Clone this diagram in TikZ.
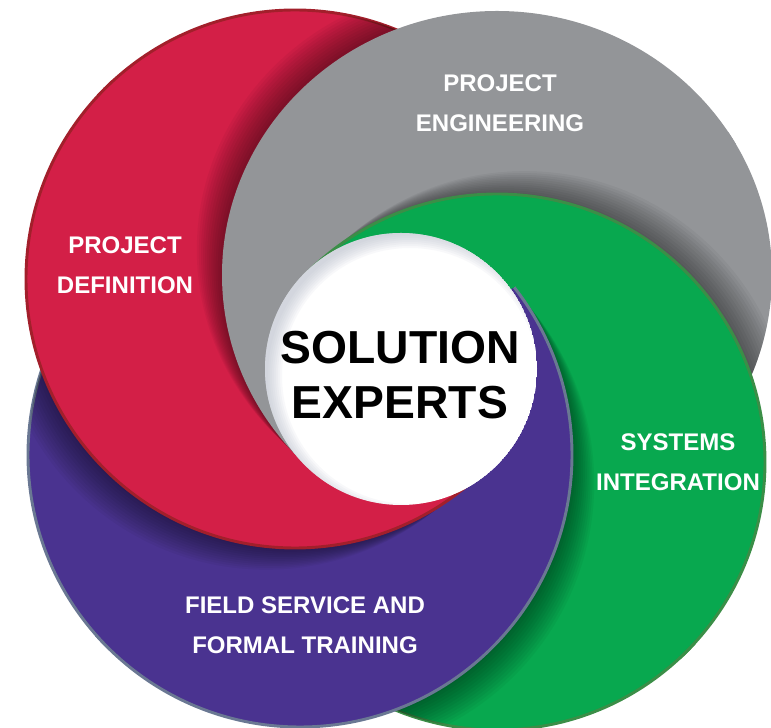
\documentclass[tikz,border=0pt]{standalone}
\usepackage{fontspec}
\setmainfont{Liberation Sans}
\usepackage{tikz}

\definecolor{defred}{HTML}{D31F47}
\definecolor{defredline}{HTML}{A21F2B}
\definecolor{enggray}{HTML}{939598}
\definecolor{intgreen}{HTML}{08A84F}
\definecolor{intgreenline}{HTML}{3B8E47}
\definecolor{fldpurple}{HTML}{4A3390}
\definecolor{fldpurpleline}{HTML}{6A7893}
\definecolor{centershade}{HTML}{A9B0C0}

\newcommand{\defshape}{(295,449) circle [radius=269]}
\newcommand{\engshape}{(497,453) ellipse [x radius=275, y radius=264]}
\newcommand{\intshape}{(497,266) circle [radius=268]}
\newcommand{\fldshape}{(300,273) circle [radius=272]}

\newcommand{\defring}{\filldraw[fill=defred, draw=defredline, line width=2.5pt] \defshape;}
\newcommand{\engring}{\fill[enggray] \engshape;}
\newcommand{\intring}{\filldraw[fill=intgreen, draw=intgreenline, line width=2.5pt] \intshape;}
\newcommand{\fldring}{\filldraw[fill=fldpurple, draw=fldpurpleline, line width=2.5pt] \fldshape;}
\newcommand{\castshadow}[4]{\begin{scope}\clip #2; \foreach \k in {1,...,12} \fill[black, opacity=0.04, shift={(\k*#3,\k*#4)}] #1; \end{scope}}
\newcommand{\defshadow}{\castshadow{\defshape}{\fldshape}{-2.4}{-1.8}}
\newcommand{\engshadow}{\castshadow{\engshape}{\defshape}{-2.1}{2.1}}
\newcommand{\intshadow}{\castshadow{\intshape}{\engshape}{2.3}{1.9}}
\newcommand{\fldshadow}{\castshadow{\fldshape}{\intshape}{1.85}{-2.35}}

\tikzset{
  ringlabel/.style={text=white, font=\bfseries\fontsize{20.5}{34.5}\selectfont, align=center},
  centerlabel/.style={text=black, font=\bfseries\fontsize{39.5}{47}\selectfont, align=center}
}

\begin{document}
\begin{tikzpicture}[x=0.03cm, y=0.03cm]
\useasboundingbox (0,0) rectangle (771,728);
\coordinate (w) at (401,359);

\begin{scope}
  \clip (w) -- +(34:1200) -- +(138:1200) -- cycle;
  \begin{scope}[transparency group]
    \fldring \defshadow \defring \engshadow \engring \intshadow \intring
  \end{scope}
\end{scope}
\begin{scope}
  \clip (w) -- +(135:1200) -- +(224:1200) -- cycle;
  \begin{scope}[transparency group]
    \intring \fldshadow \fldring \defshadow \defring \engshadow \engring
  \end{scope}
\end{scope}
\begin{scope}
  \clip (w) -- +(221:1200) -- +(317:1200) -- cycle;
  \begin{scope}[transparency group]
    \engring \intshadow \intring \fldshadow \fldring \defshadow \defring
  \end{scope}
\end{scope}
\begin{scope}
  \clip (w) -- +(314:1200) -- +(396:1200) -- cycle;
  \begin{scope}[transparency group]
    \defring \engshadow \engring \intshadow \intring \fldshadow \fldring
  \end{scope}
\end{scope}

\begin{scope}
  \clip (w) circle [radius=136];
  \fill[white] (w) circle [radius=136];
  \foreach \k in {1,...,8}
    \fill[centershade, opacity=0.08, even odd rule] (w) circle [radius=140] ([shift={(9,-7)}]w) circle [radius=126+2*\k];
\end{scope}

\node[ringlabel] (definition) at (125,463) {PROJECT\\DEFINITION};
\node[ringlabel] (engineering) at (500,625) {PROJECT\\ENGINEERING};
\node[ringlabel] (integration) at (678,266) {SYSTEMS\\INTEGRATION};
\node[ringlabel] (training) at (305,103) {FIELD SERVICE AND\\FORMAL TRAINING};
\node[centerlabel] (experts) at (400,353) {SOLUTION\\EXPERTS};
\end{tikzpicture}
\end{document}
